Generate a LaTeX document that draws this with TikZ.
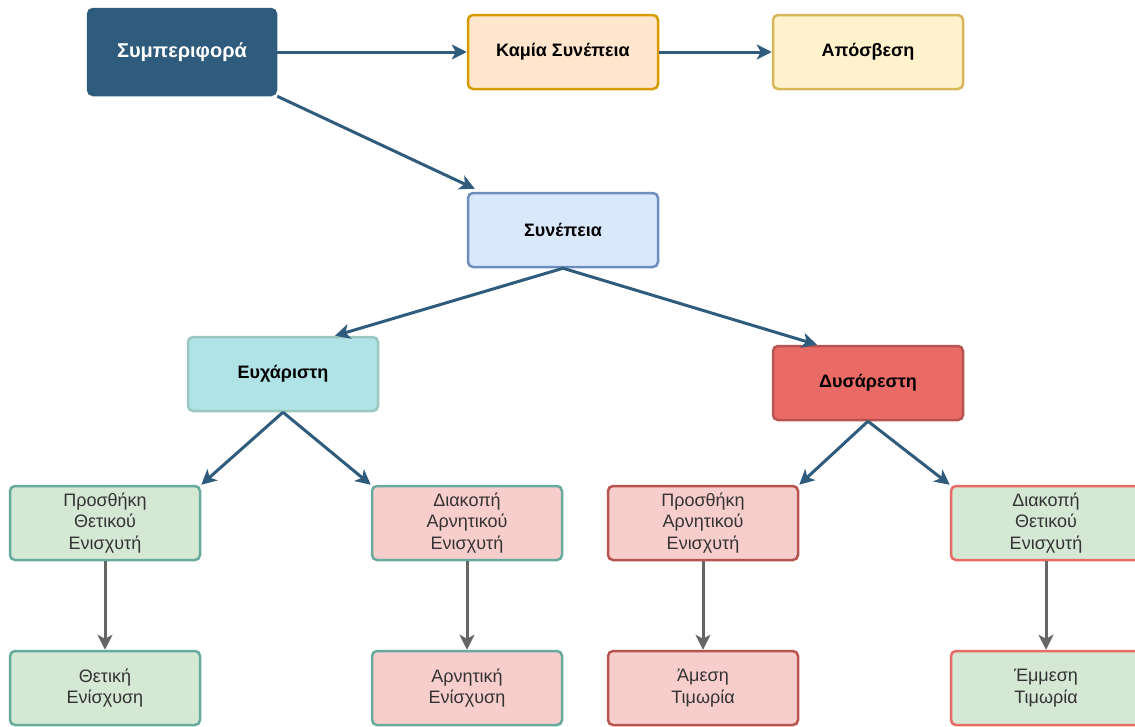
\documentclass[tikz,border=0pt]{standalone}
\usepackage{fontspec}
\setmainfont{Liberation Sans}
\usetikzlibrary{arrows.meta}

\definecolor{flowblue}{HTML}{2F5B7C}
\definecolor{downgrey}{HTML}{666666}
\definecolor{noneFill}{HTML}{FFE6CC}
\definecolor{noneLine}{HTML}{D79B00}
\definecolor{extFill}{HTML}{FFF2CC}
\definecolor{extLine}{HTML}{D6B656}
\definecolor{consFill}{HTML}{DAE8FC}
\definecolor{consLine}{HTML}{6C8EBF}
\definecolor{pleasFill}{HTML}{B0E3E6}
\definecolor{pleasLine}{HTML}{9AC7BF}
\definecolor{unplFill}{HTML}{EA6B66}
\definecolor{darkRed}{HTML}{B85450}
\definecolor{lightRed}{HTML}{EA6B66}
\definecolor{greenFill}{HTML}{D5E8D4}
\definecolor{pinkFill}{HTML}{F8CECC}
\definecolor{teal}{HTML}{67AB9F}

\begin{document}
\begin{tikzpicture}[x=1pt, y=-1pt,
  box/.style={rectangle, rounded corners=5pt, line width=2.5pt, minimum width=190pt,
    minimum height=74pt, inner sep=0pt, align=center, text=black!80,
    font=\fontsize{18}{21.6}\selectfont},
  head/.style={box, text=black, font=\fontsize{18}{21.6}\selectfont\bfseries},
  flow/.style={line width=3pt, flowblue, -{Stealth[length=15pt, width=15pt, inset=4pt]}},
  down/.style={line width=3pt, downgrey, -{Stealth[length=15pt, width=15pt, inset=4pt]}}]

\useasboundingbox (0,0) rectangle (1135,726);
\clip (0,0) rectangle (1135,726);

% top row
\node[head, fill=flowblue, draw=flowblue, text=white, minimum width=188pt, minimum height=86pt,
  font=\fontsize{20}{24}\selectfont\bfseries] (beh) at (182,52) {Συμπεριφορά};
\node[head, fill=noneFill, draw=noneLine] (none) at (563,52) {Καμία Συνέπεια};
\node[head, fill=extFill, draw=extLine] (ext) at (868,52) {Απόσβεση};

% consequence and its two kinds
\node[head, fill=consFill, draw=consLine] (cons) at (563,230) {Συνέπεια};
\node[head, fill=pleasFill, draw=pleasLine] (pleas) at (283,374) {Ευχάριστη};
\node[head, fill=unplFill, draw=darkRed] (unpl) at (868,383) {Δυσάρεστη};

% what happens
\node[box, fill=greenFill, draw=teal] (addpos) at (105,523) {Προσθήκη\\Θετικού\\Ενισχυτή};
\node[box, fill=pinkFill, draw=teal] (stopneg) at (467,523) {Διακοπή\\Αρνητικού\\Ενισχυτή};
\node[box, fill=pinkFill, draw=darkRed] (addneg) at (703,523) {Προσθήκη\\Αρνητικού\\Ενισχυτή};
\node[box, fill=greenFill, draw=lightRed] (stoppos) at (1046,523) {Διακοπή\\Θετικού\\Ενισχυτή};

% results
\node[box, fill=greenFill, draw=teal] (posrein) at (105,688) {Θετική\\Ενίσχυση};
\node[box, fill=pinkFill, draw=teal] (negrein) at (467,688) {Αρνητική\\Ενίσχυση};
\node[box, fill=pinkFill, draw=darkRed] (dirpun) at (703,688) {Άμεση\\Τιμωρία};
\node[box, fill=greenFill, draw=lightRed] (indpun) at (1046,688) {Έμμεση\\Τιμωρία};

\draw[flow] (beh.east) -- (none.west);
\draw[flow] (none.east) -- (ext.west);
\draw[flow] (beh.south east) -- ([xshift=8pt, yshift=3pt]cons.north west);
\draw[flow] (cons.south) -- ([xshift=52pt]pleas.north);
\draw[flow] (cons.south) -- ([xshift=-51pt]unpl.north);
\draw[flow] (pleas.south) -- (addpos.north east);
\draw[flow] (pleas.south) -- (stopneg.north west);
\draw[flow] (unpl.south) -- (addneg.north east);
\draw[flow] (unpl.south) -- (stoppos.north west);

\draw[down] (addpos) -- (posrein);
\draw[down] (stopneg) -- (negrein);
\draw[down] (addneg) -- (dirpun);
\draw[down] (stoppos) -- (indpun);

\end{tikzpicture}
\end{document}
